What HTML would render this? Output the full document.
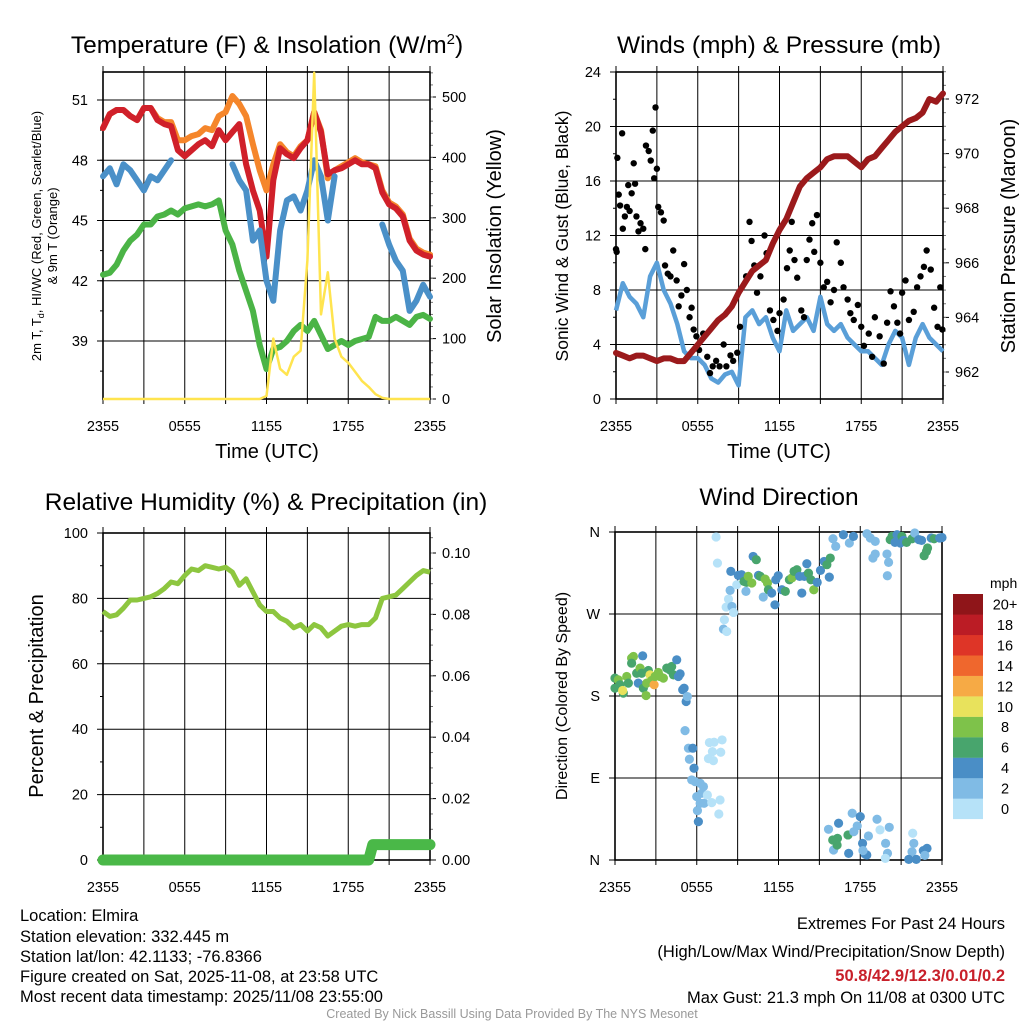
<!DOCTYPE html>
<html><head><meta charset="utf-8"><style>
html,body{margin:0;padding:0;background:#fff;}
svg{display:block;font-family:"Liberation Sans",sans-serif;}
</style></head><body>
<svg id="fig" width="1024" height="1024" viewBox="0 0 1024 1024" xmlns="http://www.w3.org/2000/svg">
<rect x="0" y="0" width="1024" height="1024" fill="#fff"/>
<text x="267" y="53" font-size="24.5" text-anchor="middle">Temperature (F) &amp; Insolation (W/m<tspan dy="-9" font-size="15">2</tspan><tspan dy="9">)</tspan></text>
<text x="779" y="53" font-size="24.5" text-anchor="middle">Winds (mph) &amp; Pressure (mb)</text>
<text x="266" y="510" font-size="24.5" text-anchor="middle">Relative Humidity (%) &amp; Precipitation (in)</text>
<text x="779" y="505" font-size="24.5" text-anchor="middle">Wind Direction</text>

<text transform="translate(41,236) rotate(-90)" font-size="13" text-anchor="middle">2m T, T<tspan dy="3" font-size="9">d</tspan><tspan dy="-3">, HI/WC (Red, Green, Scarlet/Blue)</tspan></text>
<text transform="translate(57,236) rotate(-90)" font-size="13" text-anchor="middle">&amp; 9m T (Orange)</text>
<text transform="translate(501,236) rotate(-90)" font-size="20" text-anchor="middle">Solar Insolation (Yellow)</text>
<text x="267" y="458" font-size="20" text-anchor="middle">Time (UTC)</text>

<text transform="translate(568,236) rotate(-90)" font-size="17.5" text-anchor="middle">Sonic Wind &amp; Gust (Blue, Black)</text>
<text transform="translate(1015,236) rotate(-90)" font-size="20" text-anchor="middle">Station Pressure (Maroon)</text>
<text x="779" y="458" font-size="20" text-anchor="middle">Time (UTC)</text>

<text transform="translate(43,696) rotate(-90)" font-size="20" text-anchor="middle">Percent &amp; Precipitation</text>
<text transform="translate(567,696) rotate(-90)" font-size="16" text-anchor="middle">Direction (Colored By Speed)</text>

<g font-size="16.5">
<text x="20" y="921">Location: Elmira</text>
<text x="20" y="942">Station elevation: 332.445 m</text>
<text x="20" y="962">Station lat/lon: 42.1133; -76.8366</text>
<text x="20" y="982">Figure created on Sat, 2025-11-08, at 23:58 UTC</text>
<text x="20" y="1002">Most recent data timestamp: 2025/11/08 23:55:00</text>
</g>
<g font-size="16.5" text-anchor="end">
<text x="1005" y="929">Extremes For Past 24 Hours</text>
<text x="1005" y="957">(High/Low/Max Wind/Precipitation/Snow Depth)</text>
<text x="1005" y="981" fill="#c8202a" font-weight="bold">50.8/42.9/12.3/0.01/0.2</text>
<text x="1005" y="1003">Max Gust: 21.3 mph On 11/08 at 0300 UTC</text>
</g>
<text x="512" y="1018" font-size="12.5" fill="#999" text-anchor="middle">Created By Nick Bassill Using Data Provided By The NYS Mesonet</text>
</svg>
<script>
const times = [0,0.5,1,1.5,2,2.5,3,3.5,4,4.5,5,5.5,6,6.5,7,7.5,8,8.5,9,9.5,10,10.5,11,11.5,12,12.5,13,13.5,14,14.5,15,15.5,16,16.5,17,17.5,18,18.5,19,19.5,20,20.5,21,21.5,22,22.5,23,23.5,24];
const tempRed = [49.6,50.3,50.5,50.5,50.2,50.0,50.6,50.6,50.0,49.8,49.7,48.5,48.2,48.5,48.8,49.0,48.7,49.5,49.0,49.4,49.8,47.8,46.5,45.5,43.2,47.0,48.6,48.3,48.1,48.6,49.0,50.4,49.4,47.3,47.5,47.6,47.8,48.0,47.8,47.8,47.6,46.4,45.8,45.6,45.2,44.0,43.5,43.3,43.2];
const tempOrange = [49.6,50.3,50.5,50.5,50.2,50.0,50.6,50.6,50.1,49.9,49.9,49.0,49.0,49.2,49.3,49.6,49.5,50.2,50.4,51.2,50.8,50.2,48.8,47.5,46.5,47.8,48.8,48.4,48.2,48.7,49.0,50.4,49.5,47.1,47.5,47.7,47.9,48.1,47.9,47.8,47.7,46.5,45.9,45.7,45.3,44.1,43.6,43.4,43.3];
const tempBlue = [47.2,47.6,46.8,47.8,47.5,47.0,46.5,47.2,47.0,47.5,48.0,null,null,null,null,null,null,null,null,47.8,47.0,46.5,44.0,44.5,42.0,41.0,44.5,46.0,46.2,45.5,46.5,48.0,47.2,45.0,47.2,null,null,null,null,null,null,44.8,43.8,43.0,42.5,40.5,41.0,41.8,41.2];
const tempGreen = [42.3,42.4,42.8,43.5,44.0,44.3,44.8,44.8,45.2,45.3,45.5,45.3,45.6,45.7,45.8,45.7,45.8,46.0,44.5,43.8,42.5,41.5,40.5,38.8,37.6,38.6,38.7,39.0,39.5,39.8,39.5,40.0,39.3,38.6,38.8,39.0,38.8,39.0,39.1,39.2,40.2,40.0,40.0,40.2,40.0,39.8,40.2,40.3,40.1];
const solar = [0,0,0,0,0,0,0,0,0,0,0,0,0,0,0,0,0,0,0,0,0,0,0,0,5,100,50,40,70,80,230,540,140,210,100,70,60,45,30,20,8,2,0,0,0,0,0,0,0];
const windSpeed = [6.5,8.5,7.5,7,6,9,10,8,7,5.5,3.5,3,3,2.5,1.5,1.2,1.8,2,1,6,6.5,5.5,6,4.5,3.5,6.5,5,5.5,6,5,7.5,5.5,5,5.5,4.5,4,3.5,3.5,3,2.5,4,5,4.5,2.5,4.5,5.5,4.5,4,3.5];
const pressure = [962.7,962.6,962.5,962.6,962.6,962.5,962.4,962.5,962.5,962.4,962.4,962.7,963.0,963.3,963.6,963.9,964.1,964.4,964.9,965.3,965.7,965.9,966.1,966.7,967.2,967.6,968.2,968.8,969.1,969.3,969.5,969.8,969.9,969.9,969.9,969.7,969.5,969.8,969.9,970.2,970.5,970.8,971.0,971.2,971.3,971.5,972.0,971.9,972.2];
const gustTimes = [0,0.05,0.1,0.2,0.3,0.45,0.5,0.65,0.8,0.9,1,1.15,1.3,1.4,1.5,1.65,1.8,2,2.15,2.2,2.4,2.55,2.7,2.8,2.9,3,3.1,3.3,3.5,3.6,3.8,4,4.2,4.45,4.6,4.8,5,5.2,5.4,5.55,5.7,5.9,6.1,6.4,6.7,6.9,7.1,7.35,7.6,7.9,8.1,8.4,8.6,8.9,9.1,9.55,9.8,9.95,10.15,10.35,10.6,10.9,11.05,11.3,11.55,11.85,12,12.3,12.55,12.75,12.9,13.1,13.3,13.6,13.8,14,14.2,14.4,14.55,14.75,15,15.25,15.5,15.75,16,16.2,16.5,16.7,17,17.2,17.45,17.75,18,18.2,18.55,18.8,19,19.35,19.65,19.9,20.15,20.4,20.65,20.85,21,21.25,21.5,21.85,22.1,22.35,22.6,22.8,23.1,23.35,23.6,23.8,23.95];
const gustVals = [11,10.8,17.7,15,14.2,19.5,12.5,13.4,14.1,15.7,13.8,15.1,17.3,15.8,13.4,12.3,12.9,12.5,11,18.6,18.2,17.5,19.7,16.2,21.4,16.9,14.1,13.7,13.1,9.8,9.2,9.0,10.9,8.7,6.8,7.6,9.9,8,6,6.7,5.1,4.6,3.6,4.8,3.1,1.9,2.4,2.8,2.4,4,2.4,3.2,2.8,3.4,5.3,9,13,11.6,9.8,7.8,9,12,10.7,6.5,5.8,5,6.3,7.3,9.6,10.9,13,10.2,8.9,6.5,6,10.2,11.7,12.9,10.8,13.5,10,8.2,8.6,7.1,8,11.5,10,8.2,7.3,6.3,5.8,6.9,5.3,3.9,4.8,3.1,6,4.6,2.6,5.6,7.9,6.8,5.6,4.8,7.8,8.7,5.8,6.4,8.2,9,9.7,10.9,9.5,6.7,5.3,8.2,5.1];
const rh = [76,74.5,75,77,79.5,79.5,80,80.5,81.5,83,85,84.5,87,89,88.5,90,89.5,89,89.5,88,84,86,82,78,76,76,74,73,71,72,70,72,71,68.5,70,71.5,72,71.5,72,72,74,80,80.5,81,83,85,87,88.5,88];
const precipTimes = [0,19.5,19.8,24];
const precipVals = [0,0,0.005,0.005];
const dirTimes = [0,0,0.24,0.37,0.61,0.56,0.86,0.98,1.22,1.35,1.22,1.59,1.71,1.84,1.96,2.03,2.08,2.28,2.33,2.45,2.57,2.69,2.87,2.94,3.18,3.31,3.55,3.80,4.04,4.16,4.29,4.53,4.65,4.78,4.97,5.07,5.22,5.31,
5.14,5.39,5.71,5.46,5.80,5.63,5.88,6.25,6.49,6.0,6.37,6.25,6.05,6.12,6.54,6.93,7.27,7.86,7.15,6.86,7.22,7.76,6.78,7.10,7.71,7.62,7.42,7.52,
7.96,8.2,8.03,8.16,8.33,8.45,8.58,8.7,8.94,8.5,9.05,9.29,9.47,9.65,9.78,9.61,10.04,10.14,10.37,10.53,10.66,10.88,11.02,11.19,11.26,11.5,11.74,11.8,11.98,12.25,12.5,12.8,12.99,13.14,13.35,13.55,13.71,13.9,14.08,14.2,14.38,14.59,14.84,15.08,15.35,15.55,15.73,15.8,16.0,16.2,17.2,17.5,16.76,
18.49,18.74,19.1,18.93,19.1,19.96,20.08,19.99,20.2,20.33,20.55,20.7,20.94,21.06,21.18,21.4,21.8,22.0,22.3,22.5,22.69,22.86,22.94,23.21,23.42,23.83,24.0,
15.67,16.04,16.41,16.33,17.1,16.3,15.98,17.15,17.53,17.41,17.78,18.00,18.17,18.35,18.48,18.6,18.2,19.23,19.45,19.86,20.0,20.13,19.84,21.85,21.93,21.8,21.56,22.11,22.63,22.9,22.74];
const dirDegs = [199.6,188.6,197.7,192.3,183.1,186,201.4,194.1,221.6,223.4,216,205,194.1,210.6,205,224.1,188.6,180.5,194.1,208,203.2,197,192.3,201.4,205.8,201.4,199.6,210.6,208.5,212.4,203.2,219.7,201.4,204.3,186.8,188.6,173.9,179.4,
142,122.7,122.7,110.6,100.7,87.9,86,84.2,80.6,69.6,73.2,62.3,54.2,42.1,62.3,128.9,129.3,131.8,119,111.3,109.1,118.3,71.4,63,65.9,50.5,354.5,325.9,
253.4,250.8,263.7,277.6,286.4,295.9,278.3,271.7,302.1,316.8,312.4,313.1,305.8,304.7,311.3,294.8,304,333.2,329.6,312.4,311.3,288.6,308.3,304,296.6,293,280.1,307.6,312,296.6,294.8,307.6,309.7,316.8,318.6,311.3,293,311.3,325.2,314.9,307.6,296.6,304.7,317.9,327.7,324.1,310.5,331.4,352.6,344.2,347.9,355.2,357,
358.1,353.4,349.7,331.4,335.8,335.8,326.7,312,351.6,355.2,348.6,357,347.9,355.2,350.8,348.6,352.6,358.9,351.6,350.8,334,338.7,342.4,353.4,352.6,353.4,354,
33.7,11,40.3,23.8,27.5,16.5,22,7.3,31.1,51.3,37.4,47.6,18.3,6.6,5.5,26.4,10.3,44.7,33.1,18.3,7.3,35.9,1.8,29.4,18.3,9.1,0.7,0.7,10.3,12.8,5.1];
const dirSpeeds = [6,6,8,7,6,10,8,6,8,8,6,6,5,8,6,4,6,8,8,7,10,9,12,8,8,8,8,6,6,6,6,4,4,4,4,4,4,3,
3,3,4,3,4,3,3,3,3,3,3,3,3,4,2,1,1,1,1,1,1,1,1,1,1,1,1,1,
2,1,1,1,1,2,2,1,1,4,4,4,6,6,8,2,8,4,6,4,6,2,8,8,6,4,4,4,4,4,6,6,8,6,6,4,4,4,4,6,6,8,4,4,4,6,4,6,2,2,2,4,4,
2,2,2,2,2,2,2,2,6,6,4,4,4,6,4,6,6,2,4,4,6,6,6,4,6,4,4,
3,3,4,6,6,6,6,4,3,2,3,4,4,4,4,3,2,2,1,2,2,3,1,1,2,2,4,4,4,4,2];

const binColors = ["#b6e2f8","#80bbe5","#4a8ec6","#48a56d","#7ec24a","#e8e25c","#f6aa45","#ef672d","#de3527","#bb1c25","#8f1519"];
const binLabels = ["0","2","4","6","8","10","12","14","16","18","20+"];
const tempTicks = [39,42,45,48,51];
const solarTicks = [0,100,200,300,400,500];
const windTicks = [0,4,8,12,16,20,24];
const pressTicks = [962,964,966,968,970,972];
const rhTicks = [0,20,40,60,80,100];
const precTicks = [0,0.02,0.04,0.06,0.08,0.10];
const dirTicks = [0,90,180,270,360];
const dirTickLabels = ["N","E","S","W","N"];
const timeTicks = [0,6,12,18,24];
const timeTickLabels = ["2355","0555","1155","1755","2355"];

const NS = "http://www.w3.org/2000/svg";
const svg = document.getElementById("fig");
function mk(tag, attrs, parent){
  const e = document.createElementNS(NS, tag);
  for (const k in attrs) e.setAttribute(k, attrs[k]);
  (parent||svg).appendChild(e);
  return e;
}
function lin(d0,d1,r0,r1){ return v => r0 + (v-d0)/(d1-d0)*(r1-r0); }

function panel(name, L, R, T, B, xDom, yl, yr){
  const g = mk("g", {});
  
  
  const x = lin(xDom[0], xDom[1], L, R);
  const gridG = mk("g", {stroke:"#000","stroke-width":1}, g);
  
  
  for (let t = 0; t <= 24; t += 3){
    const ln = mk("line", {x1:x(t), x2:x(t), y1:T, y2:B+5}, gridG);
    
    
    const tk = mk("line", {x1:x(t), x2:x(t), y1:T-6, y2:T}, gridG);
    
    
  }
  yl.ticks.forEach(v => {
    const ln = mk("line", {x1:L-6, x2:R, y1:yl.s(v), y2:yl.s(v)}, gridG);
    
    
  });
  (yl.minor||[]).forEach(v => {
    const ln = mk("line", {x1:L-3, x2:L, y1:yl.s(v), y2:yl.s(v)}, gridG);
    
    
  });
  if (yr){
    yr.ticks.forEach(v => {
      const ln = mk("line", {x1:R, x2:R+6, y1:yr.s(v), y2:yr.s(v)}, gridG);
      
      
    });
    (yr.minor||[]).forEach(v => {
      const ln = mk("line", {x1:R, x2:R+3, y1:yr.s(v), y2:yr.s(v), stroke:"#777"}, gridG);
      
      
    });
  }
  const fr = mk("rect", {x:L, y:T, width:R-L, height:B-T, fill:"none", stroke:"#000", "stroke-width":1.6}, g);
  
  
  const lab = mk("g", {"font-size":14.5, fill:"#000"}, g);
  
  
  timeTicks.forEach((t,i) => {
    const tx = mk("text", {x:x(t), y:B+32, "text-anchor":"middle"}, lab);
    tx.textContent = timeTickLabels[i];
    
    
  });
  yl.ticks.forEach((v,i) => {
    const tx = mk("text", {x:L-15, y:yl.s(v)+5, "text-anchor":"end"}, lab);
    tx.textContent = yl.labels ? yl.labels[i] : yl.fmt(v);
    
    
  });
  if (yr) yr.ticks.forEach(v => {
    const tx = mk("text", {x:R+12, y:yr.s(v)+5, "text-anchor":"start"}, lab);
    tx.textContent = yr.fmt(v);
    
    
  });
  const clipId = name + "-clip";
  const cp = mk("clipPath", {id:clipId}, svg);
  mk("rect", {x:L-8, y:T-8, width:R-L+16, height:B-T+16}, cp);
  const plot = mk("g", {"clip-path":"url(#"+clipId+")"}, g);
  
  
  return {g, plot, x};
}
function pathOf(xs, ys, xf, yf){
  let d = "", pen = false;
  for (let i=0;i<xs.length;i++){
    if (ys[i] === null || ys[i] === undefined){ pen = false; continue; }
    d += (pen ? "L" : "M") + xf(xs[i]).toFixed(1) + "," + yf(ys[i]).toFixed(1);
    pen = true;
  }
  return d;
}
function range(a,b,s){ const r=[]; for(let v=a; v<=b+1e-9; v+=s) r.push(+v.toFixed(4)); return r; }

// Panel 1: temperature
const tY = lin(39, 51, 341, 100);
const sY = lin(0, 500, 399, 97);
const p1 = panel("temperature-panel", 103, 430, 72, 399, [0,24],
  {s:tY, ticks:tempTicks, minor:range(37.5,52,1.5), fmt:v=>String(v)},
  {s:sY, ticks:solarTicks, minor:range(0,540,20), fmt:v=>String(v)});
[["temp-9m-orange-line",tempOrange,"#f5862b",6],["temp-2m-red-line",tempRed,"#d0202a",6],["hi-wc-blue-line",tempBlue,"#4a90c8",6],["dewpoint-green-line",tempGreen,"#4bb446",6]].forEach(s => {
  const p = mk("path", {d:pathOf(times, s[1], p1.x, tY), fill:"none", stroke:s[2], "stroke-width":s[3], "stroke-linejoin":"round", "stroke-linecap":"round"}, p1.plot);
  
  
});
const solarPath = mk("path", {d:pathOf(times, solar, p1.x, sY), fill:"none", stroke:"#ffe44f", "stroke-width":2.5, "stroke-linejoin":"round"}, p1.plot);



// Panel 2: winds & pressure
const wY = lin(0, 24, 399, 72);
const pY = lin(962, 972, 372, 99);
const p2 = panel("winds-panel", 616, 943, 72, 399, [0,24],
  {s:wY, ticks:windTicks, minor:range(2,22,4), fmt:v=>String(v)},
  {s:pY, ticks:pressTicks, minor:range(961.5,973,0.5), fmt:v=>String(v)});
const wp = mk("path", {d:pathOf(times, windSpeed, p2.x, wY), fill:"none", stroke:"#5a9fd8", "stroke-width":4.5, "stroke-linejoin":"round"}, p2.plot);


const gustG = mk("g", {fill:"#000"}, p2.plot);


gustTimes.forEach((t,i) => {
  const c = mk("circle", {cx:p2.x(t), cy:wY(gustVals[i]), r:3.2}, gustG);
  
  
});
const pp = mk("path", {d:pathOf(times, pressure, p2.x, pY), fill:"none", stroke:"#9b1a1c", "stroke-width":6, "stroke-linejoin":"round", "stroke-linecap":"round"}, p2.plot);



// Panel 3: RH & precip
const rY = lin(0, 100, 860, 533);
const prY = lin(0, 0.10, 860, 553);
const p3 = panel("humidity-panel", 103, 430, 533, 860, [0,24],
  {s:rY, ticks:rhTicks, minor:range(10,90,20), fmt:v=>String(v)},
  {s:prY, ticks:precTicks, minor:range(0.005,0.105,0.005), fmt:v=>v.toFixed(2)});
const rp = mk("path", {d:pathOf(times, rh, p3.x, rY), fill:"none", stroke:"#8dc63f", "stroke-width":5, "stroke-linejoin":"round"}, p3.plot);


const prp = mk("path", {d:pathOf(precipTimes, precipVals, p3.x, prY), fill:"none", stroke:"#4ab848", "stroke-width":11, "stroke-linejoin":"round", "stroke-linecap":"round"}, p3.plot);



// Panel 4: wind direction
const dY = lin(0, 360, 860, 532);
const p4 = panel("direction-panel", 615, 942, 532, 860, [0,24],
  {s:dY, ticks:dirTicks, labels:dirTickLabels, minor:[]}, null);
const dg = mk("g", {}, p4.plot);


dirTimes.forEach((t,i) => {
  const sp = (dirSpeeds[i] === undefined) ? 4 : dirSpeeds[i];
  const dv = (dirDegs[i] === undefined) ? 350 : dirDegs[i];
  const b = Math.max(0, Math.min(10, Math.floor(sp/2)));
  const c = mk("circle", {cx:p4.x(t), cy:dY(dv), r:4.6, fill:binColors[b]}, dg);
  
  
});
const leg = mk("g", {}, svg);


const legTitle = mk("text", {x:990, y:588, "font-size":14, "text-anchor":"start"}, leg);
legTitle.textContent = "mph";


binColors.forEach((col,i) => {
  const top = 594 + (10-i)*20.45;
  const r = mk("rect", {x:953, y:top, width:30, height:20.6, fill:col}, leg);
  
  
  const tx = mk("text", {x:1005, y:top+15.5, "font-size":14.5, "text-anchor":"middle"}, leg);
  tx.textContent = binLabels[i];
  
  
});
</script>
</body></html>
